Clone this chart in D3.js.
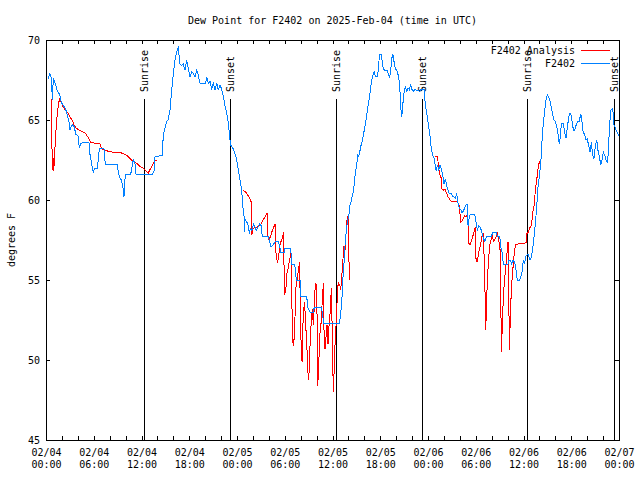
<!DOCTYPE html>
<html><head><meta charset="utf-8">
<script src="https://cdn.jsdelivr.net/npm/d3@7"></script>
<style>
body{margin:0;background:#fff}
text{font-family:"DejaVu Sans Mono","Liberation Mono",monospace;font-size:10px;fill:#000}
</style>
</head><body><svg id="c" width="640" height="480"></svg>
<script>
// hours since 2025-02-04 00:00 UTC, dew point (F)
const xTickHours = [0,6,12,18,24,30,36,42,48,54,60,66,72];
const xTickDates = ["02/04","02/04","02/04","02/04","02/05","02/05","02/05","02/05","02/06","02/06","02/06","02/06","02/07"];
const xTickTimes = ["00:00","06:00","12:00","18:00","00:00","06:00","12:00","18:00","00:00","06:00","12:00","18:00","00:00"];
const yTicks = [45,50,55,60,65,70];
const sunHours = [12.35,23.16,36.45,47.29,60.48,71.41];
const sunLabels = ["Sunrise","Sunset","Sunrise","Sunset","Sunrise","Sunset"];
const seriesNames = ["F2402 Analysis","F2402"];

const f2402 = [[0.25,67.56],[0.50,67.9],[0.69,67.6],[0.79,66.25],[0.92,67.6],[1.09,67.4],[1.26,67.1],[1.42,66.8],[1.60,66.7],[1.76,66.5],[1.92,66.1],[2.17,65.9],[2.35,65.8],[2.51,65.6],[2.68,65.3],[2.85,65.0],[3.02,64.4],[3.18,64.6],[3.36,64.7],[3.52,64.6],[3.77,64.1],[4.02,64.0],[4.18,63.3],[4.36,63.5],[4.61,63.6],[5.40,63.6],[5.44,63.1],[5.62,62.6],[5.94,61.7],[6.12,62.0],[6.45,62.0],[6.57,62.5],[6.70,63.2],[7.29,63.2],[7.45,62.25],[8.92,62.25],[9.05,61.9],[9.21,61.45],[9.46,61.25],[9.64,60.9],[9.80,60.2],[9.96,61.6],[10.64,61.6],[10.97,62.5],[11.15,62.4],[11.31,61.6],[13.32,61.6],[13.57,61.8],[13.70,62.7],[14.65,62.8],[14.72,64.0],[14.95,64.5],[15.17,64.9],[15.33,65.0],[15.58,65.6],[15.80,66.9],[16.00,67.9],[16.21,68.75],[16.42,69.27],[16.62,69.5],[16.84,68.5],[17.05,68.4],[17.25,68.5],[17.47,68.1],[17.68,68.75],[17.88,68.2],[18.10,67.7],[18.31,68.0],[18.51,67.9],[18.72,67.7],[18.94,68.1],[19.14,67.8],[19.35,67.3],[20.07,67.3],[20.19,67.7],[20.39,67.3],[20.61,67.4],[20.82,66.9],[21.02,67.3],[21.24,66.9],[21.45,67.3],[21.65,66.9],[21.87,67.2],[22.08,66.9],[22.28,66.5],[22.49,65.9],[22.71,65.4],[22.91,64.8],[23.12,63.75],[23.25,63.4],[23.54,63.2],[23.75,62.9],[23.96,62.5],[24.16,61.9],[24.38,61.25],[24.59,60.6],[24.75,59.5],[24.88,59.0],[24.92,58.0],[25.01,58.8],[25.26,58.6],[25.42,58.4],[25.55,57.9],[25.67,58.2],[25.85,58.1],[26.10,58.5],[26.26,58.3],[26.43,58.1],[26.64,58.3],[26.85,58.5],[27.02,58.4],[27.18,57.7],[27.93,57.7],[28.06,57.5],[28.24,57.1],[28.36,57.1],[28.56,57.2],[28.78,57.4],[29.19,57.4],[29.40,57.0],[29.53,56.7],[29.94,56.7],[30.03,57.0],[30.75,57.0],[30.87,56.0],[31.16,56.0],[31.29,55.8],[31.45,55.0],[31.92,55.0],[32.04,54.0],[32.76,54.0],[32.88,53.3],[33.17,53.0],[33.59,53.0],[33.71,53.3],[34.64,53.3],[34.72,52.9],[34.90,52.3],[36.88,52.3],[37.07,53.1],[37.20,54.0],[37.32,55.2],[37.48,56.3],[37.61,57.5],[37.79,58.3],[37.91,58.75],[38.04,59.0],[38.20,59.7],[38.33,59.9],[38.45,60.2],[38.62,60.5],[38.74,61.0],[38.87,61.7],[39.04,62.2],[39.17,62.8],[39.29,62.7],[39.46,63.1],[39.58,63.4],[39.71,63.6],[39.87,64.0],[40.00,64.4],[40.12,64.7],[40.30,65.3],[40.42,65.8],[40.55,66.1],[40.71,66.7],[40.84,67.2],[40.97,67.6],[41.13,67.9],[41.25,68.0],[41.38,67.7],[41.59,67.7],[41.80,68.2],[41.88,69.1],[42.10,69.1],[42.22,68.75],[42.39,68.2],[42.60,68.1],[42.89,68.1],[43.01,67.9],[43.14,67.7],[43.27,67.9],[43.39,68.5],[43.52,69.1],[43.64,69.0],[43.77,68.5],[43.89,68.2],[44.07,68.1],[44.20,67.9],[44.32,67.7],[44.45,67.1],[44.57,65.8],[44.70,65.2],[44.82,65.9],[44.99,66.7],[45.15,67.1],[45.33,66.8],[45.49,67.0],[45.65,66.9],[45.83,67.2],[45.99,66.9],[46.15,66.8],[46.37,66.9],[46.99,66.8],[47.12,66.9],[47.34,66.9],[47.50,66.9],[47.66,66.0],[47.91,65.2],[48.09,64.6],[48.25,64.0],[48.42,63.2],[48.59,62.8],[48.76,62.6],[48.92,62.1],[49.05,61.8],[49.17,62.2],[49.35,61.9],[49.51,62.2],[49.68,61.9],[49.85,61.6],[50.01,61.0],[50.18,61.3],[50.35,60.9],[50.52,60.6],[50.68,60.4],[50.93,60.4],[51.11,60.2],[51.27,60.2],[51.44,60.1],[51.61,60.4],[51.78,59.8],[51.94,59.5],[52.11,59.4],[52.27,59.2],[52.44,59.3],[52.61,59.5],[52.78,59.7],[52.94,59.7],[53.03,58.4],[53.20,59.0],[53.37,59.1],[53.88,59.1],[54.08,58.5],[54.21,58.1],[54.38,58.4],[54.54,58.3],[54.71,58.1],[54.92,57.7],[55.13,57.4],[55.34,57.7],[55.96,57.7],[56.14,58.0],[56.59,58.0],[56.72,57.7],[57.02,57.7],[57.14,57.1],[57.31,56.7],[57.47,56.0],[58.06,56.0],[58.18,56.25],[58.37,56.25],[58.47,56.0],[58.69,56.25],[58.90,56.1],[59.06,55.6],[59.22,55.0],[59.53,55.0],[59.65,55.2],[59.81,55.5],[59.98,56.25],[60.13,56.0],[60.32,56.5],[60.57,56.6],[60.82,56.25],[60.98,56.4],[61.16,57.0],[61.32,57.7],[61.49,58.5],[61.66,59.6],[61.82,60.8],[61.99,61.45],[62.17,62.3],[62.33,63.75],[62.49,64.8],[62.67,65.6],[62.83,66.25],[62.99,66.6],[63.17,66.4],[63.33,66.2],[63.50,65.8],[63.67,65.3],[63.84,65.0],[64.00,64.9],[64.18,64.6],[64.34,64.1],[64.50,63.5],[64.63,64.0],[64.76,64.8],[65.01,64.8],[65.18,64.2],[65.34,63.9],[65.51,64.5],[65.68,65.2],[65.84,65.4],[66.01,65.3],[66.18,64.6],[66.35,64.3],[66.51,64.5],[66.68,64.8],[66.84,64.9],[67.01,64.9],[67.19,65.4],[67.35,64.9],[67.51,64.2],[67.69,64.1],[67.86,63.75],[68.02,63.8],[68.19,63.4],[68.36,63.0],[68.52,63.6],[68.70,62.8],[68.86,62.6],[69.03,63.4],[69.20,63.75],[69.36,63.1],[69.53,62.7],[69.71,62.2],[69.87,62.5],[70.03,63.0],[70.20,62.8],[70.37,62.5],[70.54,62.3],[70.66,63.0],[70.79,64.4],[70.96,65.6],[71.13,65.7],[71.29,65.4],[71.37,64.7],[71.53,64.5],[71.71,64.3],[71.96,64.0]];

const analysisDay1 = [[0.67,66.3],[0.79,61.9],[0.88,62.6],[0.97,61.8],[1.13,63.3],[1.26,64.4],[1.42,65.4],[1.60,66.1],[1.76,66.35],[1.92,66.1],[2.17,65.8],[2.43,65.6],[2.68,65.5],[3.02,65.2],[3.27,65.0],[3.52,64.7],[3.77,64.5],[4.06,64.4],[4.49,64.3],[4.90,64.2],[5.32,63.9],[5.62,63.6],[6.79,63.5],[7.00,63.2],[7.41,63.1],[8.26,63.0],[9.09,63.0],[9.71,62.9],[10.14,62.8],[10.56,62.6],[10.97,62.4],[11.40,62.3],[11.81,62.1],[12.23,62.0],[12.57,61.8],[12.86,61.7],[13.28,62.1],[13.70,62.5],[13.91,62.5]];

const analysisDay2 = [[24.79,60.6],[25.09,60.5],[25.35,60.3],[25.60,60.1],[25.76,59.9],[25.85,57.8],[26.01,58.2],[26.26,58.3],[26.51,58.3],[26.77,58.4],[27.02,58.5],[27.27,58.75],[27.52,58.95],[27.77,59.2],[27.86,57.8],[28.02,57.5],[28.27,57.8],[28.44,58.1],[28.61,58.3],[28.78,58.5],[28.86,57.1],[28.94,56.35],[29.12,56.1],[29.28,56.7],[29.44,57.3],[29.62,57.5],[29.78,57.8],[29.87,58.0],[29.94,54.1],[30.12,54.3],[30.28,55.4],[30.45,55.8],[30.62,56.3],[30.79,56.7],[30.87,54.2],[31.00,51.1],[31.13,50.9],[31.29,52.7],[31.42,54.6],[31.58,55.1],[31.71,55.6],[31.88,56.1],[31.96,52.7],[32.04,51.25],[32.17,49.9],[32.29,52.3],[32.46,53.6],[32.63,52.5],[32.71,51.25],[32.83,50.4],[32.96,48.75],[33.09,49.4],[33.21,51.5],[33.34,52.4],[33.46,53.2],[33.59,52.2],[33.71,53.3],[33.84,54.8],[33.96,54.7],[34.05,53.1],[34.14,48.4],[34.27,49.6],[34.39,51.5],[34.56,52.3],[34.72,53.75],[34.85,54.8],[34.93,51.9],[35.06,50.7],[35.19,51.5],[35.31,52.2],[35.44,51.0],[35.56,52.1],[35.73,53.1],[35.85,54.5],[35.98,51.5],[36.10,48.0],[36.23,49.6],[36.32,51.0],[36.44,52.1],[36.53,53.1],[36.66,54.6],[36.78,54.8],[36.91,54.7],[37.03,54.4],[37.16,55.2],[37.28,56.0],[37.41,57.1],[37.54,56.6],[37.70,57.9],[37.86,59.0],[37.99,59.0],[38.11,55.0]];

const analysisDay3 = [[48.84,62.7],[49.17,62.7],[49.26,62.4],[49.38,61.9],[49.47,61.6],[49.64,61.4],[49.76,60.7],[49.92,60.6],[50.14,60.7],[50.35,60.4],[50.52,60.2],[50.77,60.0],[50.93,59.9],[51.56,59.9],[51.78,59.8],[51.94,59.6],[52.11,58.6],[52.27,58.7],[52.44,58.85],[52.61,59.0],[52.78,58.95],[52.94,59.1],[53.03,58.5],[53.12,57.3],[53.28,57.2],[53.44,57.4],[53.61,57.7],[53.78,58.0],[53.94,58.3],[54.03,56.35],[54.19,56.1],[54.37,56.7],[54.54,57.1],[54.71,57.5],[54.83,57.9],[54.96,57.9],[55.13,55.1],[55.26,51.9],[55.34,53.3],[55.46,55.0],[55.64,56.5],[55.80,57.3],[55.96,57.6],[56.05,57.9],[56.22,57.4],[56.39,57.5],[56.55,57.7],[56.72,57.9],[56.89,57.5],[57.05,56.9],[57.14,54.2],[57.22,50.5],[57.35,52.3],[57.47,54.0],[57.65,55.2],[57.81,56.0],[57.97,56.9],[58.06,57.4],[58.15,54.4],[58.22,50.6],[58.35,52.7],[58.47,54.4],[58.65,55.6],[58.81,56.5],[58.98,57.2],[59.32,57.25],[59.74,57.3],[60.17,57.3],[60.36,57.35],[60.41,57.9],[60.62,58.0],[60.83,58.3],[60.99,58.4],[61.16,59.2],[61.32,59.6],[61.49,60.6],[61.66,61.25],[61.82,61.9],[61.99,62.4],[62.20,62.4]];

const colors = ["#ff0000","#0080ff"];

const svg = d3.select("#c");
const L=46,R=619,T=40,B=440;
const x = d3.scaleLinear().domain([0,72]).range([L,R]);
const y = d3.scaleLinear().domain([45,70]).range([B,T]);
svg.append("rect").attr("width",640).attr("height",480).attr("fill","#fff");

const allTicks = d3.range(0,73,2);
function fmtX(d){const i=xTickHours.indexOf(d);return i<0?"":xTickDates[i];}

const gB = svg.append("g").attr("transform",`translate(0,${B})`)
  .call(d3.axisBottom(x).tickValues(allTicks).tickSizeInner(-4).tickSizeOuter(0).tickPadding(9).tickFormat(fmtX));
gB.selectAll(".tick text").each(function(d){
  const i = xTickHours.indexOf(d); if(i<0) return;
  d3.select(this).append("tspan").attr("x",0).attr("dy","1.2em").text(xTickTimes[i]);
});
svg.append("g").attr("transform",`translate(0,${T})`)
  .call(d3.axisTop(x).tickValues(allTicks).tickSizeInner(-4).tickSizeOuter(0).tickFormat(""));
svg.append("g").attr("transform",`translate(${L},0)`)
  .call(d3.axisLeft(y).tickValues(yTicks).tickSizeInner(-4).tickSizeOuter(0).tickPadding(6).tickFormat(d3.format("d")));
svg.append("g").attr("transform",`translate(${R},0)`)
  .call(d3.axisRight(y).tickValues(yTicks).tickSizeInner(-4).tickSizeOuter(0).tickFormat(""));
svg.selectAll(".domain").remove();
svg.selectAll(".tick line").attr("stroke","#000").attr("shape-rendering","crispEdges");

svg.append("rect").attr("x",L+0.5).attr("y",T+0.5).attr("width",R-L).attr("height",B-T)
  .attr("fill","none").attr("stroke","#000").attr("shape-rendering","crispEdges");

// sunrise / sunset markers
sunHours.forEach((h,i)=>{
  const px = Math.round(x(h))+0.5;
  svg.append("line").attr("x1",px).attr("x2",px).attr("y1",99).attr("y2",B)
    .attr("stroke","#000").attr("shape-rendering","crispEdges");
  svg.append("text").attr("transform",`translate(${px},92) rotate(-90)`)
    .attr("text-anchor","start").attr("dy","0.35em").text(sunLabels[i]);
});

const line = d3.line().x(d=>x(d[0])).y(d=>y(d[1]));
[analysisDay1,analysisDay2,analysisDay3].forEach(seg=>{
  svg.append("path").attr("d",line(seg)).attr("fill","none").attr("stroke",colors[0])
    .attr("stroke-width",1).attr("shape-rendering","crispEdges");
});
svg.append("path").attr("d",line(f2402)).attr("fill","none").attr("stroke",colors[1])
  .attr("stroke-width",1).attr("shape-rendering","crispEdges");

// legend
seriesNames.forEach((n,i)=>{
  const ly = 50 + i*13;
  svg.append("text").attr("x",575).attr("y",ly).attr("dy","0.35em").attr("text-anchor","end").text(n);
  svg.append("line").attr("x1",581).attr("x2",610).attr("y1",ly+0.5).attr("y2",ly+0.5)
    .attr("stroke",colors[i]).attr("shape-rendering","crispEdges");
});

// title & axis label
svg.append("text").attr("x",(L+R)/2).attr("y",20).attr("dy","0.35em").attr("text-anchor","middle")
  .text("Dew Point for F2402 on 2025-Feb-04 (time in UTC)");
svg.append("text").attr("transform","translate(11,240) rotate(-90)").attr("dy","0.35em")
  .attr("text-anchor","middle").text("degrees F");
</script></body></html>
